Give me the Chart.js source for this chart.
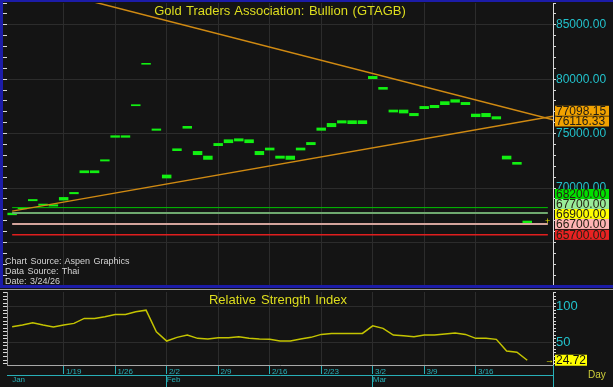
<!DOCTYPE html>
<html>
<head>
<meta charset="utf-8">
<title>GTAGB</title>
<script src="https://cdn.jsdelivr.net/npm/chart.js@4.4.1/dist/chart.umd.min.js"></script>
<style>
  body { margin: 0; background: #141414; }
  #wrap { position: relative; width: 613px; height: 387px; overflow: hidden; background: #141414;
          font-family: "Liberation Sans", Arial, sans-serif; }
  canvas { position: absolute; left: 0; }
  .abs { position: absolute; white-space: nowrap; }
  #title { left: 0; width: 560px; top: 3.5px; text-align: center; font-size: 13px; line-height: 13px;
           color: #dede1e; word-spacing: 1px; }
  #rsi-title { left: 0; width: 556px; top: 293px; text-align: center; font-size: 13px; line-height: 13px;
               color: #dede1e; word-spacing: 1.5px; }
  #src { left: 5px; top: 256px; font-size: 9px; line-height: 10px; color: #d4d4d4; word-spacing: 1px; }
  #day { left: 588px; top: 370px; font-size: 10px; line-height: 10px; color: #cfcf3a; }
</style>
</head>
<body>
<div id="wrap">
  <canvas id="price-chart" width="613" height="286" style="top:0"></canvas>
  <canvas id="rsi-chart" width="613" height="96" style="top:291px"></canvas>

  <div class="abs" style="left:0;top:0;width:613px;height:2px;background:#1c1ca8"></div>
  <div class="abs" style="left:0;top:0;width:3px;height:288px;background:#1c1ca8"></div>
  <div class="abs" style="left:0;top:285px;width:613px;height:3px;background:#1c1ca8"></div>
  <div class="abs" style="left:0;top:289px;width:613px;height:1px;background:#9a9a9a"></div>
  <div class="abs" style="left:553px;top:365px;width:1px;height:22px;background:#28b0b8"></div>

  <div id="title" class="abs">Gold Traders Association: Bullion (GTAGB)</div>
  <div id="src" class="abs">Chart Source: Aspen Graphics<br>Data Source: Thai<br>Date: 3/24/26</div>
  <div id="rsi-title" class="abs">Relative Strength Index</div>
  <div id="day" class="abs">Day</div>
</div>

<script>
// ── Data ──────────────────────────────────────────────────
const dates = [
  '1/12', '1/13', '1/14', '1/15', '1/16',
  '1/19', '1/20', '1/21', '1/22', '1/23',
  '1/26', '1/27', '1/28', '1/29', '1/30',
  '2/2', '2/3', '2/4', '2/5', '2/6',
  '2/9', '2/10', '2/11', '2/12', '2/13',
  '2/16', '2/17', '2/18', '2/19', '2/20',
  '2/23', '2/24', '2/25', '2/26', '2/27',
  '3/2', '3/3', '3/4', '3/5', '3/6',
  '3/9', '3/10', '3/11', '3/12', '3/13',
  '3/16', '3/17', '3/18', '3/19', '3/20',
  '3/23', '3/24', '3/25',
];

const priceLow = [
  67510, 68060, 68800, 68380, 68310,
  68860, 69440, 71370, 71370, 72450,
  74630, 74630, 77530, 81340, 75270,
  70890, 73400, 75460, 73030, 72600,
  73860, 74130, 74290, 74130, 73030,
  73460, 72700, 72600, 73460, 73950,
  75270, 75600, 75940, 75880, 75880,
  80020, 79040, 76950, 76860, 76610,
  77260, 77350, 77630, 77850, 77630,
  76520, 76520, 76310, 72630, 72150,
  66720,
];
const priceHigh = [
  67730, 68220, 68980, 68560, 68500,
  69170, 69630, 71620, 71620, 72630,
  74840, 74840, 77690, 81490, 75460,
  71230, 73640, 75700, 73400, 72970,
  74130, 74470, 74560, 74470, 73400,
  73710, 72970, 72970, 73710, 74220,
  75550, 75970, 76220, 76220, 76220,
  80290, 79280, 77200, 77200, 76890,
  77530, 77630, 77970, 78150, 77900,
  76830, 76890, 76590, 72970, 72390,
  67000,
];

const rsiValues = [
  71.9, 74.3, 77.5, 74.3, 71.5,
  74.3, 76.7, 83.7, 83.7, 86.0,
  89.3, 89.3, 93.0, 95.4, 64.9,
  51.8, 57.0, 60.3, 55.6, 54.6,
  56.5, 56.5, 57.9, 55.6, 54.6,
  54.2, 51.8, 51.8, 54.6, 57.0,
  61.2, 62.6, 62.6, 62.6, 62.6,
  73.3, 69.7, 60.3, 59.3, 57.9,
  60.3, 60.3, 61.7, 63.1, 61.2,
  55.6, 55.6, 54.2, 37.8, 36.0,
  24.72,
];

// trendlines, as drawn (day index, price)
const resistanceX = [0, 52.5];
const resistanceY = [89020, 76280];
const supportX = [0, 52.5];
const supportY = [67880, 76600];

// horizontal levels
const levelValues = [68200, 67700, 66700, 65700];
const levelEnd = 52;

// tick labels
const weekTicks = [5, 10, 15, 20, 25, 30, 35, 40, 45];
const monthTicks = [0, 15, 35];
const monthLabels = ['Jan', 'Feb', 'Mar'];
const priceGrid = [65000, 70000, 75000, 80000, 85000];
const priceLabels = [70000, 75000, 80000, 85000];   // 65000 sits under the red tag
const rsiLabels = [50, 100];

// value tags on the right axis
const tagValues = [77098.15, 76116.33, 68200, 67700, 66900, 66700, 65700];

// ── Styles ────────────────────────────────────────────────
const levelColors = ['#00c400', '#6fa86f', '#d4a49c', '#e01e1e'];
const levelWidths = [1, 2, 2, 1.5];
const tagColors = ['#f2a200', '#f2a200', '#00e000', '#98ec98', '#ffff00', '#ffb4b4', '#e82222'];
const GRID = '#2c2c2c';
const CYAN = '#22c2cc';
const AXIS_CYAN = '#28b0b8';
const FONT = '"Liberation Sans", Arial, sans-serif';

Chart.defaults.font.family = FONT;

// ── Tag plugin: stacked value boxes right of the plot ─────
const tagPlugin = {
  id: 'tags',
  afterDraw(chart, args, opts) {
    const { ctx, chartArea } = chart;
    const yScale = chart.scales.y;
    const items = opts.values
      .map((v, i) => ({ v, color: opts.colors[i], py: yScale.getPixelForValue(v) }))
      .sort((a, b) => b.py - a.py);
    let limit = Infinity;
    ctx.save();
    ctx.font = `12px ${FONT}`;
    ctx.textBaseline = 'middle';
    ctx.textAlign = 'left';
    items.forEach(t => {
      const cy = Math.min(t.py, limit);
      limit = cy - opts.h;
      ctx.fillStyle = t.color;
      ctx.fillRect(chartArea.right + 2, cy - opts.h / 2, opts.w, opts.h);
      ctx.fillStyle = opts.textColor;
      ctx.fillText(t.v.toFixed(2), chartArea.right + 3, cy + 0.5);
    });
    if (opts.marker) {
      ctx.font = `9px ${FONT}`;
      ctx.fillStyle = '#e0e000';
      ctx.fillText(opts.marker, chartArea.right - 8, yScale.getPixelForValue(opts.markerValue));
    }
    ctx.restore();
  },
};

function minorTicks(from, to, step) {
  const t = [];
  for (let v = from; v <= to; v += step) t.push({ value: v });
  return t;
}

// fixed axis sizes, no label overhang padding
const fixWidth = w => s => { s.width = w; s.paddingTop = 0; s.paddingBottom = 0; };
const fixHeight = h => s => { s.height = h; s.paddingLeft = 0; s.paddingRight = 0; };

// ── Price chart ───────────────────────────────────────────
const lineDs = (xs, ys, color, width) => ({
  type: 'line',
  data: xs.map((x, i) => ({ x, y: ys[i] })),
  borderColor: color,
  borderWidth: width,
  pointRadius: 0,
  tension: 0,
  order: 0,
});

new Chart(document.getElementById('price-chart'), {
  type: 'bar',
  data: {
    datasets: [
      {
        type: 'bar',
        data: priceLow.map((lo, i) => ({ x: i, y: [lo, priceHigh[i]] })),
        backgroundColor: '#12f012',
        borderWidth: 0,
        barPercentage: 1,
        categoryPercentage: 0.92,
        order: 1,
      },
      lineDs(resistanceX, resistanceY, '#d08a12', 1.5),
      lineDs(supportX, supportY, '#d08a12', 1.5),
      ...levelValues.map((v, i) =>
        lineDs([0, levelEnd], [v, v], levelColors[i], levelWidths[i])),
    ],
  },
  options: {
    responsive: false,
    animation: false,
    layout: { padding: { top: 3, bottom: 0, left: 0, right: 0 } },
    plugins: {
      legend: { display: false },
      tooltip: { enabled: false },
      tags: {
        values: tagValues, colors: tagColors, w: 54, h: 10, textColor: '#262014',
        marker: '+', markerValue: 66900,
      },
    },
    scales: {
      x: {
        type: 'linear', min: -0.5, max: 52.5, offset: false,
        afterBuildTicks: s => { s.ticks = weekTicks.map(v => ({ value: v })); },
        ticks: { display: false },
        grid: { color: GRID, drawTicks: false, offset: false },
        border: { display: false },
        afterFit: fixHeight(0),
      },
      y: {
        position: 'right', min: 61000, max: 87000,
        afterBuildTicks: s => { s.ticks = minorTicks(61000, 87000, 1000); },
        ticks: {
          autoSkip: false, padding: 0, color: CYAN, font: { size: 12 },
          callback: v => priceLabels.includes(v) ? v.toFixed(2) : '',
        },
        grid: {
          color: c => c.tick && priceGrid.includes(c.tick.value) ? GRID : 'rgba(0,0,0,0)',
          tickColor: '#d8d8d8', tickLength: 3,
        },
        border: { color: '#d8d8d8' },
        afterFit: fixWidth(60),
      },
      yl: {
        position: 'left', min: 61000, max: 87000,
        afterBuildTicks: s => { s.ticks = minorTicks(61000, 87000, 1000); },
        ticks: { display: false },
        grid: { drawOnChartArea: false, tickColor: '#d8d8d8', tickLength: 4 },
        border: { display: false },
        afterFit: fixWidth(7),
      },
    },
  },
  plugins: [tagPlugin],
});

// ── RSI chart ─────────────────────────────────────────────
new Chart(document.getElementById('rsi-chart'), {
  type: 'line',
  data: {
    datasets: [{
      data: rsiValues.map((v, i) => ({ x: i, y: v })),
      borderColor: '#c4c400',
      borderWidth: 1.5,
      pointRadius: 0,
      tension: 0,
    }],
  },
  options: {
    responsive: false,
    animation: false,
    layout: { padding: { top: 1, bottom: 0, left: 0, right: 0 } },
    plugins: {
      legend: { display: false },
      tooltip: { enabled: false },
      tags: {
        values: [rsiValues[rsiValues.length - 1]], colors: ['#ffff00'], w: 32, h: 11,
        textColor: '#101010', marker: '\u2192', markerValue: rsiValues[rsiValues.length - 1],
      },
    },
    scales: {
      x: {
        type: 'linear', min: -0.5, max: 52.5, offset: false, weight: 0,
        afterBuildTicks: s => { s.ticks = weekTicks.map(v => ({ value: v })); },
        ticks: {
          autoSkip: false, maxRotation: 0, align: 'start', padding: -7,
          color: AXIS_CYAN, font: { size: 8 },
          callback: v => ' ' + dates[v],
        },
        grid: { color: GRID, offset: false, tickColor: AXIS_CYAN, tickLength: 9 },
        border: { color: '#a8a8a8' },
        afterFit: fixHeight(10),
      },
      xm: {
        type: 'linear', position: 'bottom', min: -0.5, max: 52.5, offset: false, weight: 1,
        afterBuildTicks: s => { s.ticks = monthTicks.map(v => ({ value: v })); },
        ticks: {
          autoSkip: false, maxRotation: 0, align: 'start', padding: -12,
          color: AXIS_CYAN, font: { size: 8 },
          callback: v => monthLabels[monthTicks.indexOf(v)],
        },
        grid: {
          drawOnChartArea: false, tickLength: 12,
          tickColor: c => c.index === 0 ? 'rgba(0,0,0,0)' : AXIS_CYAN,
        },
        border: { color: AXIS_CYAN },
        afterFit: fixHeight(12),
      },
      y: {
        position: 'right', min: 18, max: 121,
        afterBuildTicks: s => { s.ticks = minorTicks(20, 120, 5); },
        ticks: {
          autoSkip: false, padding: 0, color: CYAN, font: { size: 13 },
          callback: v => rsiLabels.includes(v) ? String(v) : '',
        },
        grid: {
          color: c => c.tick && rsiLabels.includes(c.tick.value) ? GRID : 'rgba(0,0,0,0)',
          tickColor: '#d8d8d8', tickLength: 3,
        },
        border: { color: '#d8d8d8' },
        afterFit: fixWidth(60),
      },
      yl: {
        position: 'left', min: 18, max: 121,
        afterBuildTicks: s => { s.ticks = minorTicks(20, 120, 5); },
        ticks: { display: false },
        grid: { drawOnChartArea: false, tickColor: '#d8d8d8', tickLength: 4 },
        border: { color: '#9a9a9a' },
        afterFit: fixWidth(7),
      },
    },
  },
  plugins: [tagPlugin],
});
</script>
</body>
</html>
